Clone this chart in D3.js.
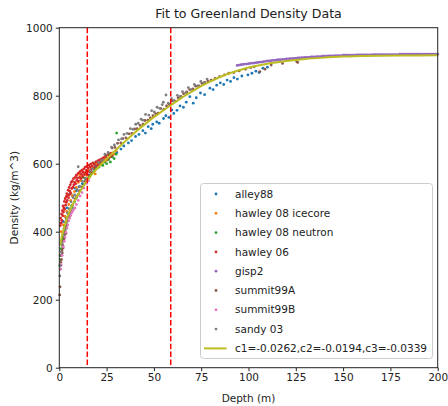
<!DOCTYPE html>
<html>
<head>
<meta charset="utf-8">
<script src="https://cdn.jsdelivr.net/npm/d3@7"></script>
<style>
    body { margin: 0; background: #fff; }
    text { font-family: "DejaVu Sans", sans-serif; fill: #222; }
</style>
</head>
<body>
<svg id="drawing_region"></svg>
<script>
// depth (m), density (kg/m^3)
const alley88 = [[2,430],[3,445],[4,470],[5.8,513],[7,505],[8.3,528],[9,520],[10.4,532],[12.2,541],[13.6,557],[16.3,566],
    [18.1,576],[20.4,590],[22.7,597],[25.2,611],[27.8,622],[30.4,633],[32.6,643],[34.1,652],[36.5,661],[38.2,668],[40.3,680],
    [42.1,686],[44.2,697],[45.5,690],[47,709],[48.6,703],[49.4,716],[51.5,723],[52.8,719],[55.1,733],[56.3,741],[57.9,736],
    [59.4,758],[60.5,748],[62.2,757],[63.8,770],[65.6,766],[67.1,781],[69,797],[70.8,778],[72.4,794],[74.6,808],[76.8,803],
    [79.6,822],[81.3,818],[83.2,831],[85.1,838],[86.9,833],[88.7,846],[90.5,842],[92.3,853],[94.1,849],[96.5,858],
    [99.7,861],[101.8,866],[103.9,872],[105.6,868],[107.6,881],[110,884]];

const hawley08Icecore = [[1,400],[2,420],[3,445],[4,460],[5,480],[6,492],[7,505],[8,518],[9,530],[10,545],[10.9,566],
    [11.5,550],[12.5,560],[13.5,572],[14.5,565],[15.5,580],[16,560],[16.5,575],[17.5,590],[18.5,585],[19,570],[19.8,601],
    [20.5,595],[21.5,608],[22.5,602],[24,616],[25,610],[26,625],[27,620],[28,632],[29,628],[30,638]];

const hawley08Neutron = [[0.3,300],[0.5,330],[0.7,318],[0.9,350],[1.1,340],[1.3,372],[1.5,360],[1.8,385],[2.1,378],
    [2.4,400],[2.7,392],[3,415],[3.3,408],[3.6,428],[3.9,420],[4.2,440],[4.5,432],[4.8,452],[5.2,446],[5.6,465],[6,458],
    [6.5,476],[7,470],[8,488],[9,500],[10,510],[11,520],[12,530],[12.5,560],[13,538],[14,548],[14.5,575],[15,556],
    [16,562],[17,570],[18,575],[18.5,600],[19,583],[20,588],[21,590],[22,598],[23,595],[24,605],[25,600],[26,612],
    [27,605],[28,620],[29,615],[30,628],[30.3,690]];

const hawley06 = [[0.5,418],[0.7,440],[0.9,425],[1.2,452],[1.3,433],[1.6,462],[1.8,447],[2,476],[2.2,458],[2.4,470],
    [2.7,489],[2.8,466],[3.1,497],[3.3,478],[3.6,503],[3.7,486],[4,512],[4.2,492],[4.4,507],[4.7,522],[4.9,500],[5.2,530],
    [5.3,509],[5.6,519],[5.8,538],[6.1,513],[6.3,545],[6.6,527],[6.9,549],[7.2,531],[7.5,556],[7.7,538],[8.1,545],
    [8.4,560],[8.6,541],[9,566],[9.2,551],[9.6,558],[9.9,571],[10.1,549],[10.5,574],[10.8,560],[11.1,577],[11.3,556],
    [11.7,569],[12,581],[12.4,563],[12.6,575],[13,585],[13.3,568],[13.7,590],[13.9,574],[14.3,580],[14.6,592],[14.8,569],
    [15.2,586],[15.6,596],[15.9,577],[16.2,590],[16.6,599],[16.9,583],[17.3,593],[17.7,602],[18,586],[18.5,598],[18.9,591],
    [19.3,605],[19.8,594],[20.3,608],[20.7,598],[21.2,611],[21.8,602],[22.3,614],[22.9,606],[23.4,618],[24,609],
    [24.6,621],[25.3,614],[25.9,627],[26.5,619],[27.1,630],[27.8,624]];

const gisp2 = [[94,889],[95,890],[96,891],[97,892],[98,893],[99,893],[100,894],[101,895],[102,896],[103,896],[104,897],
    [105,898],[106,899],[107,899],[108,900],[109,901],[110,902],[111,902],[112,903],[113,904],[114,904],[115,905],
    [116,906],[117,906],[118,907],[119,907],[120,908],[121,908],[122,909],[123,909],[124,910],[125,910],[126,911],
    [127,911],[128,912],[129,912],[130,913],[131,913],[132,913],[133,914],[134,914],[135,914],[136,915],[137,915],
    [138,915],[139,916],[140,916],[141,916],[142,917],[143,917],[144,917],[145,917],[146,918],[147,918],[148,918],
    [149,918],[150,919],[151,919],[152,919],[153,919],[154,919],[155,919],[156,919],[157,920],[158,920],[159,920],
    [160,920],[161,920],[162,920],[163,920],[164,920],[165,920],[166,921],[167,921],[168,921],[169,921],[170,921],
    [171,921],[172,921],[173,921],[174,921],[175,921],[176,921],[177,921],[178,921],[179,921],[180,922],[181,922],
    [182,922],[183,922],[184,922],[185,922],[186,922],[187,922],[188,922],[189,922],[190,922],[191,922],[192,922],
    [193,922],[194,922],[195,922],[196,922],[197,922],[198,922],[199,922],[200,922]];

const summit99A = [[0.2,214],[0.4,238],[0.6,290],[0.8,310],[1,330],[1.2,318],[1.4,345],[1.6,338],[1.8,360],[2,352],
    [2.3,372],[2.6,380],[2.9,392],[3.2,400],[3.5,395],[3.8,412],[4.2,420],[4.6,432],[5,445],[5.5,455],[6,462],[7,478],
    [8.4,496],[9.3,503],[10.6,520],[12.1,532],[13.7,549],[15.8,566],[17.4,574],[19.2,592],[21.3,603],[22.8,611],[24.5,625],
    [26.2,629],[27.9,646],[29.4,648],[30.8,660],[32.5,661],[33.6,674],[35.2,676],[36.9,688],[38.4,689],[39.8,702],
    [41.1,703],[42.7,713],[44.3,716],[45.2,727],[46.8,728],[48.1,735],[49.5,741],[50.9,747],[52.3,749],[53.6,762],
    [55.2,760],[56.7,770],[58.1,774],[59.6,785],[61.2,783],[62.8,794],[64.3,798],[65.7,806],[67.4,811],[68.9,818],
    [70.6,820],[72.1,828],[73.8,829],[75.4,836],[76.9,839],[78.5,843],[80.2,846],[82.4,851],[84.7,856],[87.3,861],
    [89.6,866],[92.2,868],[95.1,873],[98.4,878],[101.2,883],[103,885],[106,871],[108.7,878],[112,890],[118,895],
    [125.5,900],[126,898]];

const summit99B = [[0.5,290],[1,302],[1.5,330],[2.1,356],[2.6,372],[3,385],[3.5,398],[4,410],[4.5,420],[5,432],[5.5,440],
    [6,448],[6.5,455],[7,460],[7.5,465],[8.3,470],[9,480],[10,492],[11,505],[12,515],[13,528],[14.5,542],[15.5,550]];

const sandy03 = [[0.3,270],[0.6,300],[1,340],[1.5,365],[2,392],[2.5,410],[3.2,428],[3.6,438],[4.3,455],[5.1,468],
    [6.2,488],[7.3,500],[8.1,508],[9.4,524],[10,591],[10.8,533],[12.3,548],[13.9,556],[16.4,579],[17.7,585],[20.6,604],
    [22.3,610],[24.1,628],[25.8,633],[27.6,649],[29.1,655],[31.3,670],[32.9,673],[34.2,686],[35.8,689],[37.6,703],
    [38.9,701],[40.4,716],[41.7,719],[43.2,731],[44.1,728],[45.6,745],[47.3,743],[48.8,756],[50.2,752],[51.7,766],
    [53.1,763],[54.4,774],[55,781],[56.4,802],[57.6,778],[59.3,791],[60.7,786],[62.4,801],[63.8,797],[65.1,812],
    [66.9,809],[68.2,824],[69.7,818],[71.4,833],[73.2,829],[74.8,842],[76.5,838],[78.1,849]];

const fitCurve = [[0.5,360],[1,378],[2,400],[3,420],[4,438],[6,467],[8,490],[10,510],[12,528],[15,553],[20,586],[25,614],
    [30,641],[35,667],[40,692],[45,715],[50,737],[55,757],[60,776],[65,795],[70,812],[75,828],[80,842],[85,855],[90,866],
    [95,875],[100,883],[110,894],[120,902],[130,908],[140,912],[150,915],[160,917],[180,918],[200,919]];

const seriesNames = ['alley88', 'hawley 08 icecore', 'hawley 08 neutron', 'hawley 06', 'gisp2', 'summit99A', 'summit99B', 'sandy 03'];
const seriesData = [alley88, hawley08Icecore, hawley08Neutron, hawley06, gisp2, summit99A, summit99B, sandy03];
const fitLabel = 'c1=-0.0262,c2=-0.0194,c3=-0.0339';
const dashedDepths = [14.8, 58.9];
const xTicks = [0, 25, 50, 75, 100, 125, 150, 175, 200];
const yTicks = [0, 200, 400, 600, 800, 1000];

const colors = ['#1f77b4', '#ff7f0e', '#2ca02c', '#d62728', '#9467bd', '#8c564b', '#e377c2', '#7f7f7f'];

const config = {
    width: 448,
    height: 406,
    margin: { top: 27.7, right: 10.3, bottom: 38.3, left: 59.3 }
};

const svg = d3.select('#drawing_region')
    .attr('width', config.width)
    .attr('height', config.height);

const inner_width = config.width - config.margin.left - config.margin.right;
const inner_height = config.height - config.margin.top - config.margin.bottom;

const chart = svg.append('g')
    .attr('transform', `translate(${config.margin.left}, ${config.margin.top})`);

const xscale = d3.scaleLinear().domain([0, 200]).range([0, inner_width]);
const yscale = d3.scaleLinear().domain([0, 1000]).range([inner_height, 0]);

// points
seriesData.forEach((data, i) => {
    chart.append('g')
        .selectAll('circle')
        .data(data)
        .join('circle')
        .attr('cx', d => xscale(d[0]))
        .attr('cy', d => yscale(d[1]))
        .attr('r', 1.4)
        .attr('fill', colors[i]);
});

// fit
const line = d3.line()
    .x(d => xscale(d[0]))
    .y(d => yscale(d[1]))
    .curve(d3.curveMonotoneX);

chart.append('path')
    .datum(fitCurve)
    .attr('d', line)
    .attr('fill', 'none')
    .attr('stroke', '#bcbd22')
    .attr('stroke-width', 2);

// dashed depth markers
chart.selectAll('.vline')
    .data(dashedDepths)
    .join('line')
    .attr('class', 'vline')
    .attr('x1', d => xscale(d))
    .attr('x2', d => xscale(d))
    .attr('y1', 0)
    .attr('y2', inner_height)
    .attr('stroke', 'red')
    .attr('stroke-width', 1.5)
    .attr('stroke-dasharray', '5.5,2.4');

// axes
const xaxis = d3.axisBottom(xscale).tickValues(xTicks).tickSize(3.5).tickPadding(2);
const yaxis = d3.axisLeft(yscale).tickValues(yTicks).tickFormat(d3.format('d')).tickSize(3.5).tickPadding(3);

const xaxis_group = chart.append('g')
    .attr('transform', `translate(0, ${inner_height})`)
    .call(xaxis);
const yaxis_group = chart.append('g').call(yaxis);

[xaxis_group, yaxis_group].forEach(g => {
    g.select('.domain').remove();
    g.selectAll('text').attr('font-size', '10.5px').attr('fill', '#222');
    g.selectAll('line').attr('stroke', '#222');
});

// frame
chart.append('rect')
    .attr('width', inner_width)
    .attr('height', inner_height)
    .attr('fill', 'none')
    .attr('stroke', '#222')
    .attr('stroke-width', 1);

// titles
svg.append('text')
    .attr('x', config.margin.left + inner_width / 2)
    .attr('y', 18)
    .attr('text-anchor', 'middle')
    .attr('font-size', '12.6px')
    .text('Fit to Greenland Density Data');

svg.append('text')
    .attr('x', config.margin.left + inner_width / 2)
    .attr('y', 402)
    .attr('text-anchor', 'middle')
    .attr('font-size', '10.5px')
    .text('Depth (m)');

svg.append('text')
    .attr('transform', `translate(18, ${config.margin.top + inner_height / 2}) rotate(-90)`)
    .attr('text-anchor', 'middle')
    .attr('font-size', '10.5px')
    .text('Density (kg/m^3)');

// legend
const legend = svg.append('g').attr('transform', 'translate(200.5, 183.5)');
legend.append('rect')
    .attr('width', 232)
    .attr('height', 175)
    .attr('rx', 3)
    .attr('fill', 'white')
    .attr('fill-opacity', 0.8)
    .attr('stroke', '#cccccc');

const rowStep = 19.3;
seriesNames.forEach((name, i) => {
    const y = 10.5 + i * rowStep;
    legend.append('circle')
        .attr('cx', 15.5)
        .attr('cy', y)
        .attr('r', 1.4)
        .attr('fill', colors[i]);
    legend.append('text')
        .attr('x', 34.5)
        .attr('y', y)
        .attr('dy', '0.35em')
        .attr('font-size', '10.5px')
        .text(name);
});
const fy = 10.5 + seriesNames.length * rowStep;
legend.append('line')
    .attr('x1', 3.5).attr('x2', 26)
    .attr('y1', fy).attr('y2', fy)
    .attr('stroke', '#bcbd22')
    .attr('stroke-width', 2);
legend.append('text')
    .attr('x', 34.5)
    .attr('y', fy)
    .attr('dy', '0.35em')
    .attr('font-size', '10.5px')
    .text(fitLabel);
</script>
</body>
</html>
